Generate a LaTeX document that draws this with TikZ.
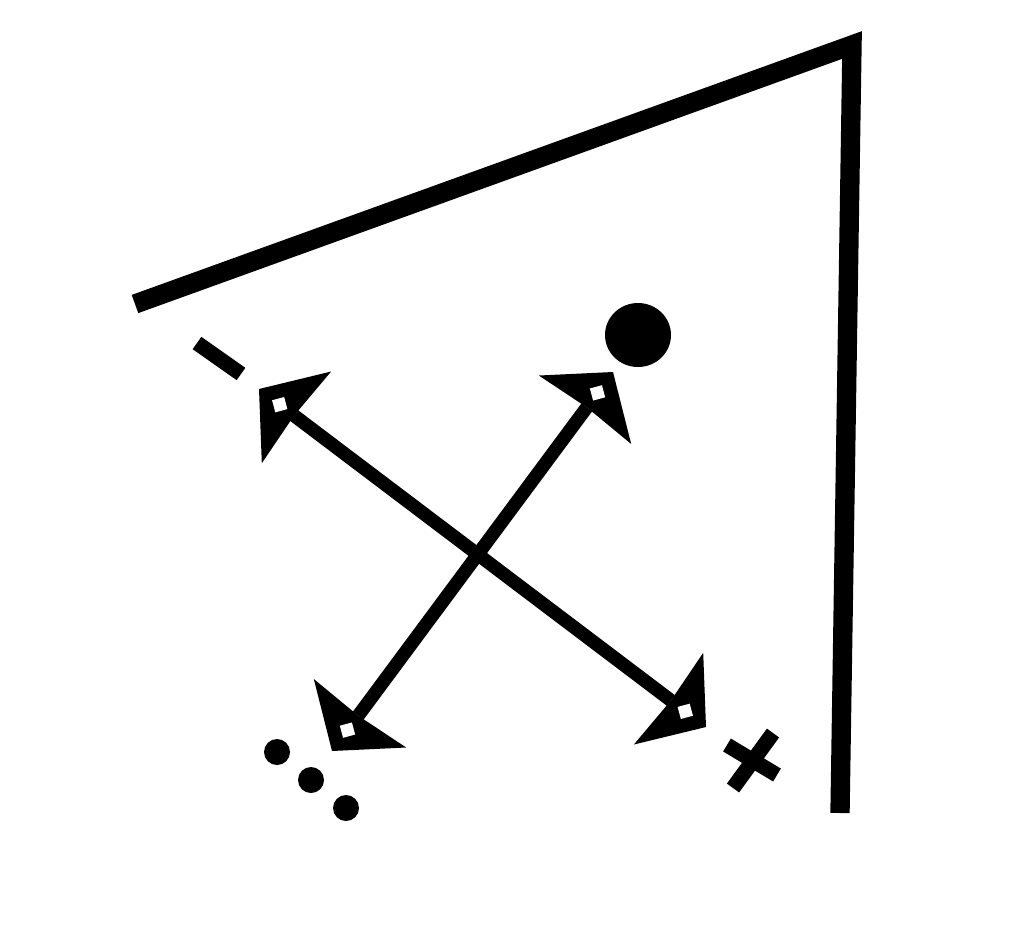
\documentclass[tikz,border=0pt]{standalone}
\usepackage{tikz}
\usetikzlibrary{arrows.meta, calc}

\begin{document}
\begin{tikzpicture}[x=0.02cm, y=-0.02cm,
        >={Stealth[length=0.94cm, width=2.3cm, inset=0.06cm, line width=0pt]},
        frame/.style={line width=11pt, line join=miter},
        axis/.style={line width=7.6pt, <->},
        hole/.style={fill=white, inner sep=0pt, minimum size=0.25cm, rotate=15},
        sign/.style={line width=8.6pt}]

    \useasboundingbox (0,0) rectangle (1020,924);
    \draw[frame] (135,304) -- (852,45) -- (840,813);

    \coordinate (minus_end) at (259,389);
    \coordinate (plus_end)  at (706,727);
    \coordinate (dots_end)  at (332,751);
    \coordinate (dot_end)   at (613,372);

    \draw[axis] (minus_end) -- (plus_end);
    \draw[axis] (dots_end) -- (dot_end);
    \foreach \a/\b in {minus_end/plus_end, plus_end/minus_end, dots_end/dot_end, dot_end/dots_end}
      \node[hole] (hole_\a) at ($(\a)!0.52cm!(\b)$) {};

    \draw[sign] (197,343) -- (241,374);
    \draw[sign] (727,745) -- (777,775) (773,733) -- (733,788);
    \fill (638,335) ellipse [x radius=33, y radius=32];
    \foreach \p in {(277,752), (311,780), (346,808)}
      \fill \p circle [radius=13];
\end{tikzpicture}
\end{document}
